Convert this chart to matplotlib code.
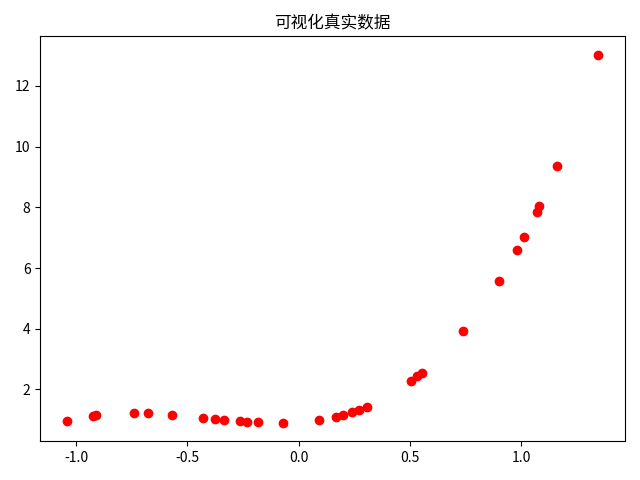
import matplotlib
matplotlib.use("Agg")
import matplotlib.pyplot as plt

plt.rcParams['font.family'] = ['Noto Sans CJK SC', 'DejaVu Sans']
plt.rcParams['axes.unicode_minus'] = False

x_vals = [-1.042, -0.924, -0.910, -0.741, -0.677, -0.570, -0.430, -0.376, -0.334,
          -0.262, -0.232, -0.184, -0.072, 0.093, 0.167, 0.200, 0.238,
          0.272, 0.307, 0.506, 0.534, 0.557, 0.739, 0.901, 0.982, 1.013,
          1.070, 1.081, 1.160, 1.348]
y_vals = [0.96, 1.13, 1.16, 1.23, 1.23, 1.16, 1.05, 1.02, 0.99,
          0.96, 0.93, 0.93, 0.90, 0.99, 1.09, 1.16, 1.27,
          1.33, 1.42, 2.28, 2.44, 2.55, 3.93, 5.56, 6.61, 7.01,
          7.85, 8.04, 9.37, 13.03]

fig, ax = plt.subplots(figsize=(6.4, 4.8), dpi=100)
ax.scatter(x_vals, y_vals, c='red')
ax.set_title('可视化真实数据')
fig.tight_layout()
fig.savefig('out.png')
